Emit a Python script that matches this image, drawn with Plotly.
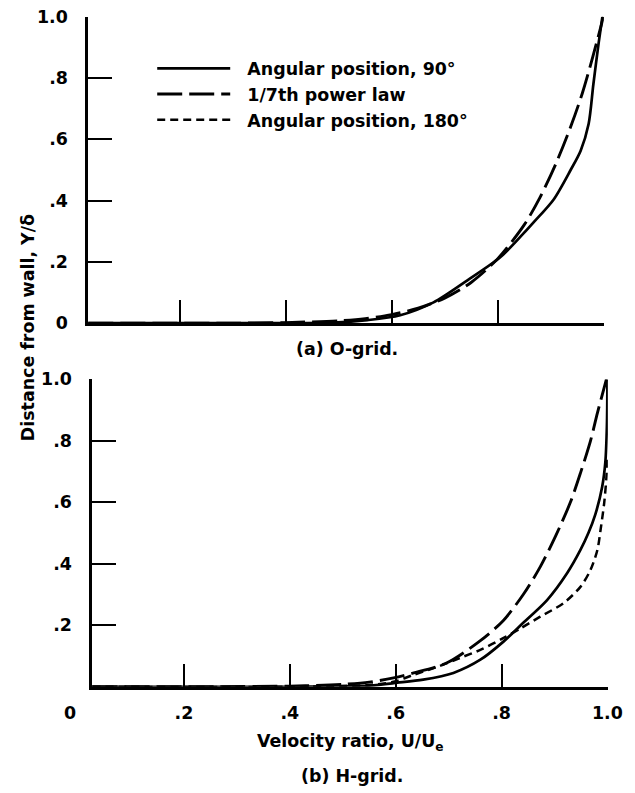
import plotly.graph_objects as go

# ---- data ----
# (a) O-grid
o_x_90 = [0.0265, 0.30, 0.49, 0.554, 0.616, 0.679, 0.743, 0.805, 0.849, 0.868, 0.906, 0.938, 0.957, 0.972, 0.981, 0.991, 0.998]
o_y_90 = [0.0, 0.0, 0.002, 0.010, 0.026, 0.068, 0.14, 0.215, 0.293, 0.329, 0.404, 0.50, 0.563, 0.65, 0.78, 0.915, 1.0]
o_x_pow = [0.0265, 0.30, 0.40, 0.50, 0.55, 0.60, 0.65, 0.70, 0.75, 0.80, 0.85, 0.88, 0.91, 0.94, 0.96, 0.98, 1.0]
o_y_pow = [0.0, 0.0002, 0.002, 0.008, 0.015, 0.028, 0.049, 0.082, 0.133, 0.21, 0.32, 0.41, 0.52, 0.65, 0.75, 0.87, 1.0]

# (b) H-grid
h_x_90 = [0.0265, 0.40, 0.55, 0.603, 0.652, 0.709, 0.760, 0.803, 0.841, 0.886, 0.924, 0.949, 0.964, 0.977, 0.99, 0.996, 0.999, 1.0]
h_y_90 = [0.0, 0.0, 0.004, 0.013, 0.023, 0.045, 0.088, 0.146, 0.208, 0.282, 0.37, 0.445, 0.50, 0.56, 0.65, 0.73, 0.85, 1.0]
h_x_pow = [0.0265, 0.40, 0.50, 0.55, 0.596, 0.634, 0.697, 0.760, 0.803, 0.841, 0.873, 0.902, 0.930, 0.949, 0.968, 0.981, 0.998]
h_y_pow = [0.0, 0.002, 0.008, 0.015, 0.029, 0.045, 0.078, 0.150, 0.215, 0.300, 0.39, 0.49, 0.60, 0.695, 0.80, 0.89, 1.0]
h_x_180 = [0.0265, 0.40, 0.55, 0.596, 0.634, 0.679, 0.722, 0.760, 0.803, 0.836, 0.873, 0.917, 0.949, 0.968, 0.981, 0.987, 0.994, 0.998, 1.0]
h_y_180 = [0.0, 0.0, 0.006, 0.016, 0.039, 0.065, 0.094, 0.12, 0.158, 0.19, 0.228, 0.272, 0.325, 0.38, 0.445, 0.51, 0.60, 0.68, 0.75]

names = ["Angular position, 90°", "1/7th power law", "Angular position, 180°"]
x_tickvals = [0.2, 0.4, 0.6, 0.8, 1.0]
x_ticktext = [".2", ".4", ".6", ".8", "1.0"]
y_tickvals_a = [0, 0.2, 0.4, 0.6, 0.8, 1.0]
y_ticktext_a = ["0", ".2", ".4", ".6", ".8", "1.0"]
y_tickvals_b = [0.2, 0.4, 0.6, 0.8, 1.0]
y_ticktext_b = [".2", ".4", ".6", ".8", "1.0"]

W, H = 635, 793
# the page is photographed slightly shrunk; map wanted picture pixels to figure pixels
SX, OX = 0.975, 0.0
SY, OY = 0.976, 9.4


def fx(px):
    return (px - OX) / SX / W


def fy(py):
    return 1 - (py - OY) / SY / H


FONT = dict(family="DejaVu Sans", size=17 / SX, color="black", weight="bold")
solid = dict(color="black", width=2.7, shape="spline", smoothing=0.8)
longdash = dict(color="black", width=2.9, dash="25px,7px", shape="spline", smoothing=0.8)
shortdash = dict(color="black", width=2.5, dash="8px,5px", shape="spline", smoothing=0.8)

fig = go.Figure()
# top panel
fig.add_trace(go.Scatter(x=o_x_90, y=o_y_90, mode="lines", line=solid, xaxis="x", yaxis="y", showlegend=False))
fig.add_trace(go.Scatter(x=o_x_pow, y=o_y_pow, mode="lines", line=longdash, xaxis="x", yaxis="y", showlegend=False))
# bottom panel
NB = "\u00a0\u00a0"
fig.add_trace(go.Scatter(x=h_x_90, y=h_y_90, mode="lines", line=solid, xaxis="x2", yaxis="y2", name=NB + names[0], legendrank=1))
fig.add_trace(go.Scatter(x=h_x_pow, y=h_y_pow, mode="lines", line=longdash, xaxis="x2", yaxis="y2", name=NB + names[1], legendrank=2))
fig.add_trace(go.Scatter(x=h_x_180, y=h_y_180, mode="lines", line=shortdash, xaxis="x2", yaxis="y2", name=NB + names[2], legendrank=3))

common_x = dict(showline=True, linecolor="black", linewidth=2.5, ticks="inside", ticklen=23.5, tickwidth=1.9,
                tickcolor="black", tickvals=x_tickvals, showgrid=False, zeroline=False, range=[0.0265, 1.0008],
                ticklabeloverflow="allow")
common_y = dict(showline=True, linecolor="black", linewidth=2.5, ticks="inside", ticklen=24.5, tickwidth=1.9,
                tickcolor="black", showgrid=False, zeroline=False, range=[0, 1.0008])

fig.update_layout(
    width=W, height=H,
    margin=dict(l=0, r=0, t=0, b=0),
    paper_bgcolor="white", plot_bgcolor="white",
    font=FONT,
    xaxis=dict(common_x, domain=[fx(88), fx(603)], anchor="y", showticklabels=False),
    yaxis=dict(common_y, domain=[fy(323), fy(16)], anchor="x",
               tickvals=y_tickvals_a, ticktext=y_ticktext_a, ticklabelstandoff=14),
    xaxis2=dict(common_x, domain=[fx(92), fx(607)], anchor="y2", ticktext=x_ticktext,
                ticklabelstandoff=9),
    yaxis2=dict(common_y, domain=[fy(687), fy(379)], anchor="x2",
                tickvals=y_tickvals_b, ticktext=y_ticktext_b, ticklabelstandoff=14),
    legend=dict(x=fx(152), y=fy(50), xanchor="left", yanchor="top", bgcolor="rgba(0,0,0,0)",
                font=FONT, itemwidth=73, tracegroupgap=0),
    showlegend=True,
)

annos = [
    dict(text="Distance from wall, Y/δ", x=fx(28), y=fy(328), textangle=-90),
    dict(text="(a) O-grid.", x=fx(347), y=fy(349)),
    dict(text="Velocity ratio, U/U<sub>e</sub>", x=fx(350), y=fy(743)),
    dict(text="(b) H-grid.", x=fx(352), y=fy(776)),
    dict(text="0", x=fx(70), y=fy(713)),
]
for a in annos:
    fig.add_annotation(xref="paper", yref="paper", showarrow=False, xanchor="center", yanchor="middle",
                       font=FONT, **a)

fig.write_html("out.html", config={"displayModeBar": False},
               post_script="document.body.style.margin='0';document.body.style.overflow='hidden';")
